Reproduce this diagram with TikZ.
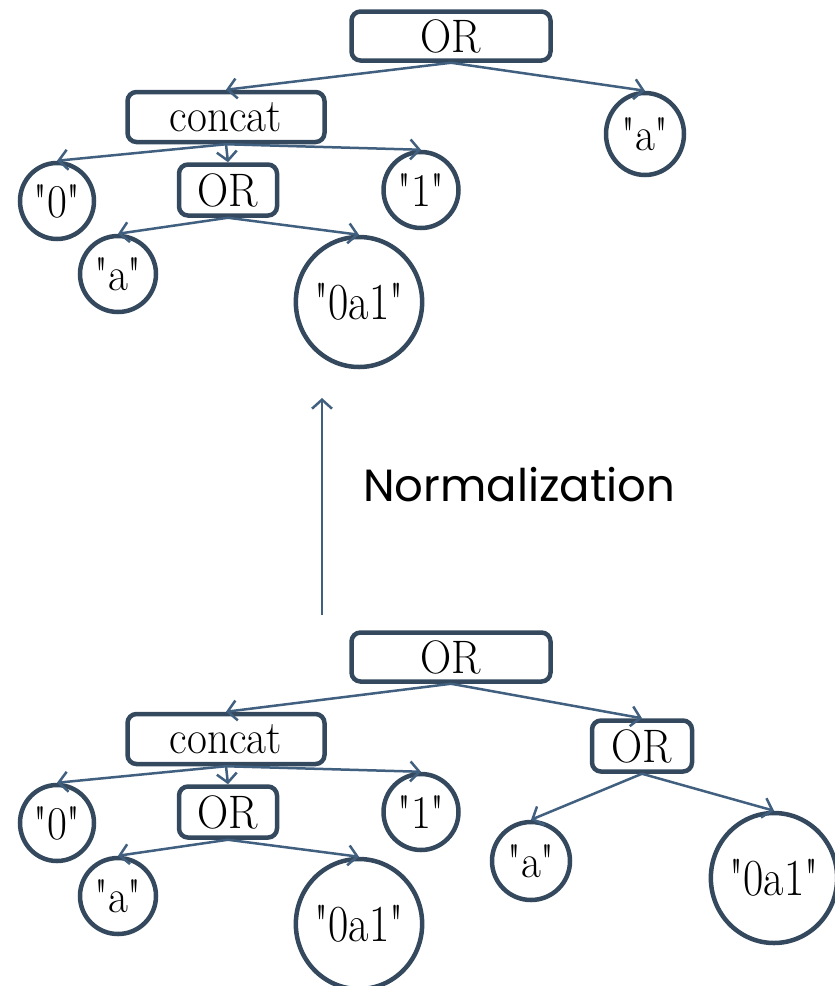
\documentclass[tikz,border=0pt]{standalone}
\usepackage{fontspec}
\newfontfamily\normfont{Poppins}
\usetikzlibrary{shapes.geometric,arrows.meta}
\definecolor{nodeline}{HTML}{34495E}
\definecolor{arrowline}{HTML}{41607F}
\newcommand{\tx}[1]{\scalebox{0.92}[1]{#1}}
\newcommand{\qq}[1]{\scalebox{0.92}[1]{\textquotedbl#1\textquotedbl}}
\newcommand{\qqbig}[1]{\scalebox{0.85}[1]{\fontsize{52}{56}\selectfont\textquotedbl#1\textquotedbl}}
\tikzset{
  opbox/.style={draw=nodeline, line width=4.5pt, rounded corners=9pt, inner sep=0pt,
    font=\fontsize{47}{52}\selectfont},
  leaf/.style={draw=nodeline, line width=4.5pt, ellipse, inner sep=0pt,
    font=\fontsize{47}{52}\selectfont},
  edge/.style={draw=arrowline, line width=2.5pt, -{Straight Barb[length=9pt,width=20pt,line width=2.5pt]}},
}
\begin{document}
\begin{tikzpicture}[x=1pt,y=-1pt]
\useasboundingbox (0,0) rectangle (835,986);
% ---------- top tree ----------
\node[opbox, minimum width=199pt, minimum height=49pt] (tor) at (451,36) {\tx{OR}};
\node[opbox, minimum width=197pt, minimum height=50pt] (tconcat) at (226,117) {\tx{concat}};
\node[leaf, minimum width=78pt, minimum height=82pt] (ta) at (645,134) {\qq{a}};
\node[leaf, minimum width=74pt, minimum height=76pt] (t0) at (57,201) {\qq{0}};
\node[opbox, minimum width=98pt, minimum height=51pt] (tior) at (228,190) {\tx{OR}};
\node[leaf, minimum width=75pt, minimum height=76pt] (t1) at (421,190) {\qq{1}};
\node[leaf, minimum width=76pt, minimum height=76pt] (tia) at (118,274) {\qq{a}};
\node[leaf, minimum width=126pt, minimum height=130pt] (t0a1) at (359,302) {\qqbig{0a1}};
\draw[edge] (tor.south) -- (tconcat.north);
\draw[edge] (tor.south) -- (ta.north);
\draw[edge] (tconcat.south) -- (t0.north);
\draw[edge] (tconcat.south) -- (tior.north);
\draw[edge] (tconcat.south) -- (t1.north);
\draw[edge] (tior.south) -- (tia.north);
\draw[edge] (tior.south) -- (t0a1.north);
% ---------- normalization ----------
\coordinate (nbot) at (322,615);
\coordinate (ntop) at (322,398);
\draw[edge] (nbot) -- (ntop);
\node[anchor=base west, inner sep=0pt, font=\normfont\fontsize{45}{50}\selectfont] (norm) at (363,501) {Normalization};
% ---------- bottom tree ----------
\node[opbox, minimum width=199pt, minimum height=49pt] (bor) at (451,657) {\tx{OR}};
\node[opbox, minimum width=197pt, minimum height=50pt] (bconcat) at (226,739) {\tx{concat}};
\node[leaf, minimum width=74pt, minimum height=76pt] (b0) at (57,823) {\qq{0}};
\node[opbox, minimum width=98pt, minimum height=51pt] (bior) at (228,812) {\tx{OR}};
\node[leaf, minimum width=75pt, minimum height=76pt] (b1) at (421,812) {\qq{1}};
\node[leaf, minimum width=76pt, minimum height=76pt] (bia) at (118,896) {\qq{a}};
\node[leaf, minimum width=126pt, minimum height=130pt] (b0a1) at (359,924) {\qqbig{0a1}};
\node[opbox, minimum width=100pt, minimum height=51pt] (bror) at (642,746) {\tx{OR}};
\node[leaf, minimum width=78pt, minimum height=78pt] (bra) at (531,861) {\qq{a}};
\node[leaf, minimum width=120pt, minimum height=130pt] (br0a1) at (774,878) {\qqbig{0a1}};
\draw[edge] (bor.south) -- (bconcat.north);
\draw[edge] (bor.south) -- (bror.north);
\draw[edge] (bconcat.south) -- (b0.north);
\draw[edge] (bconcat.south) -- (bior.north);
\draw[edge] (bconcat.south) -- (b1.north);
\draw[edge] (bior.south) -- (bia.north);
\draw[edge] (bior.south) -- (b0a1.north);
\draw[edge] (bror.south) -- (bra.north);
\draw[edge] (bror.south) -- (br0a1.north);
\end{tikzpicture}
\end{document}
